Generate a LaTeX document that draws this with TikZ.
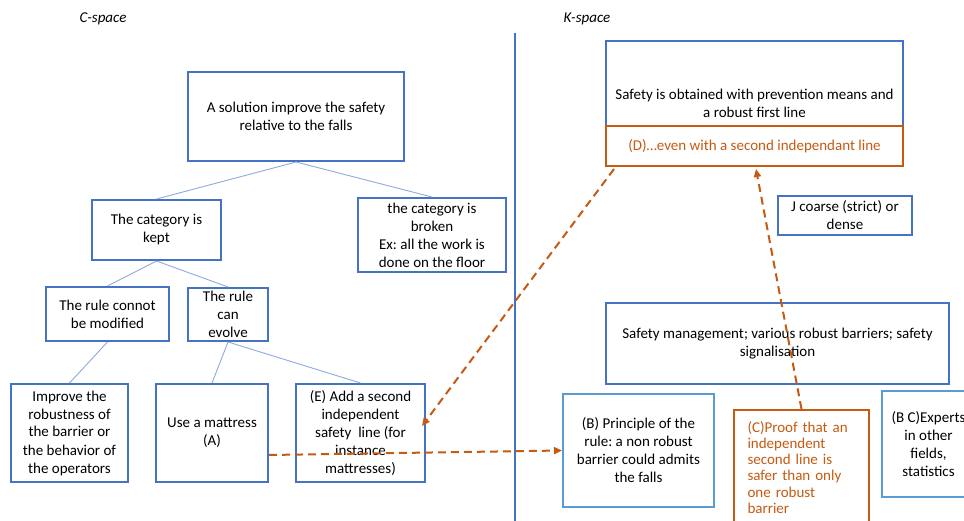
\documentclass[tikz,border=0pt]{standalone}
\usepackage{fontspec}
\setmainfont{Carlito}
\usetikzlibrary{arrows.meta}
\frenchspacing
\definecolor{boxblue}{HTML}{4472C4}
\definecolor{lineblue}{HTML}{8FAADC}
\definecolor{lightblue}{HTML}{5B9BD5}
\definecolor{orng}{HTML}{C55A11}
\tikzset{
  bx/.style={draw=boxblue, line width=2pt, rectangle, inner sep=0pt, align=center, font=\fontsize{15}{18}\selectfont, text=black},
  lbx/.style={bx, draw=lightblue},
  obx/.style={bx, draw=orng, text=orng},
  conn/.style={draw=lineblue, line width=0.9pt},
  darrow/.style={draw=orng, line width=2pt, dash pattern=on 8pt off 5pt, -{Triangle[length=8pt,width=7pt]}},
  lbl/.style={font=\fontsize{15}{18}\selectfont\itshape, inner sep=0pt}
}
\begin{document}
\begin{tikzpicture}[x=1pt,y=-1pt]
\clip (0,0) rectangle (964,521);
\fill[white] (0,0) rectangle (964,521);
\node[lbl] (cs) at (103,19) {C-space};
\node[lbl] (ks) at (587,19) {K-space};
\coordinate (vtop) at (515,33);
\coordinate (vbot) at (515,521);
\draw[boxblue, line width=2pt] (vtop) -- (vbot);

% C-space tree
\node[bx, minimum width=216pt, minimum height=89pt] (s) at (296,116.5) {A solution improve the safety\\relative to the falls};
\node[bx, minimum width=129pt, minimum height=60pt] (kept) at (156.5,230) {The category is\\kept};
\node[bx, minimum width=148pt, minimum height=74pt] (brk) at (432,235) {the category is\\broken\\Ex: all the work is\\done on the floor};
\node[bx, minimum width=123pt, minimum height=54pt] (nm) at (107.5,314) {The rule connot\\be modified};
\node[bx, minimum width=80pt, minimum height=53pt] (ev) at (228,314.5) {The rule\\can\\evolve};
\node[bx, minimum width=117pt, minimum height=98pt] (imp) at (69.5,433) {Improve the\\robustness of\\the barrier or\\the behavior of\\the operators};
\node[bx, minimum width=112pt, minimum height=98pt] (mat) at (212,433) {Use a mattress\\(A)};
\node[bx, minimum width=129pt, minimum height=98pt] (E) at (360.5,433) {(E) Add a second\\independent\\safety\ \ line (for\\instance\\mattresses)};

\draw[conn] (s.south) -- (kept.north);
\draw[conn] (s.south) -- (brk.north);
\draw[conn] (kept.south) -- (nm.north);
\draw[conn] (kept.south) -- (ev.north);
\draw[conn] (nm.south) -- ([xshift=-38pt]nm.south |- imp.north);
\draw[conn] (ev.south) -- (mat.north);
\draw[conn] (ev.south) -- (E.north);

% K-space
\node[bx, minimum width=297pt, minimum height=125pt] (K1) at (754.5,103.5) {Safety is obtained with prevention means and\\a robust first line};
\node[obx, minimum width=297pt, minimum height=40pt] (D) at (754.5,146) {(D)…even with a second independant line};
\node[bx, minimum width=134pt, minimum height=39pt] (J) at (845,215.5) {J coarse (strict) or\\dense};
\node[bx, minimum width=343pt, minimum height=81pt] (SM) at (777.5,343.5) {Safety management; various robust barriers; safety\\signalisation};
\node[lbx, minimum width=151pt, minimum height=113pt] (B) at (638.5,450.5) {(B) Principle of the\\rule: a non robust\\barrier could admits\\the falls};
\node[obx, minimum width=135pt, minimum height=115pt, text width=108pt, inner xsep=13.5pt, align=left, font=\fontsize{15}{16.1}\selectfont] (C) at (801.5,467.5) {(C)Proof that an\\independent\\second line is\\safer than only\\one robust\\barrier};
\node[lbx, minimum width=93pt, minimum height=106pt] (BC) at (928.5,444) {(B C)Experts\\in other\\fields,\\statistics};

% dashed arrows
\draw[darrow] ([yshift=-22pt]mat.east) -- (B.west);
\draw[darrow] ([xshift=9pt,yshift=-2pt]D.south west) -- ([xshift=-4pt,yshift=7pt]E.east);
\draw[darrow] (C.north) -- ([xshift=1.5pt,yshift=-2pt]D.south);
\end{tikzpicture}
\end{document}
